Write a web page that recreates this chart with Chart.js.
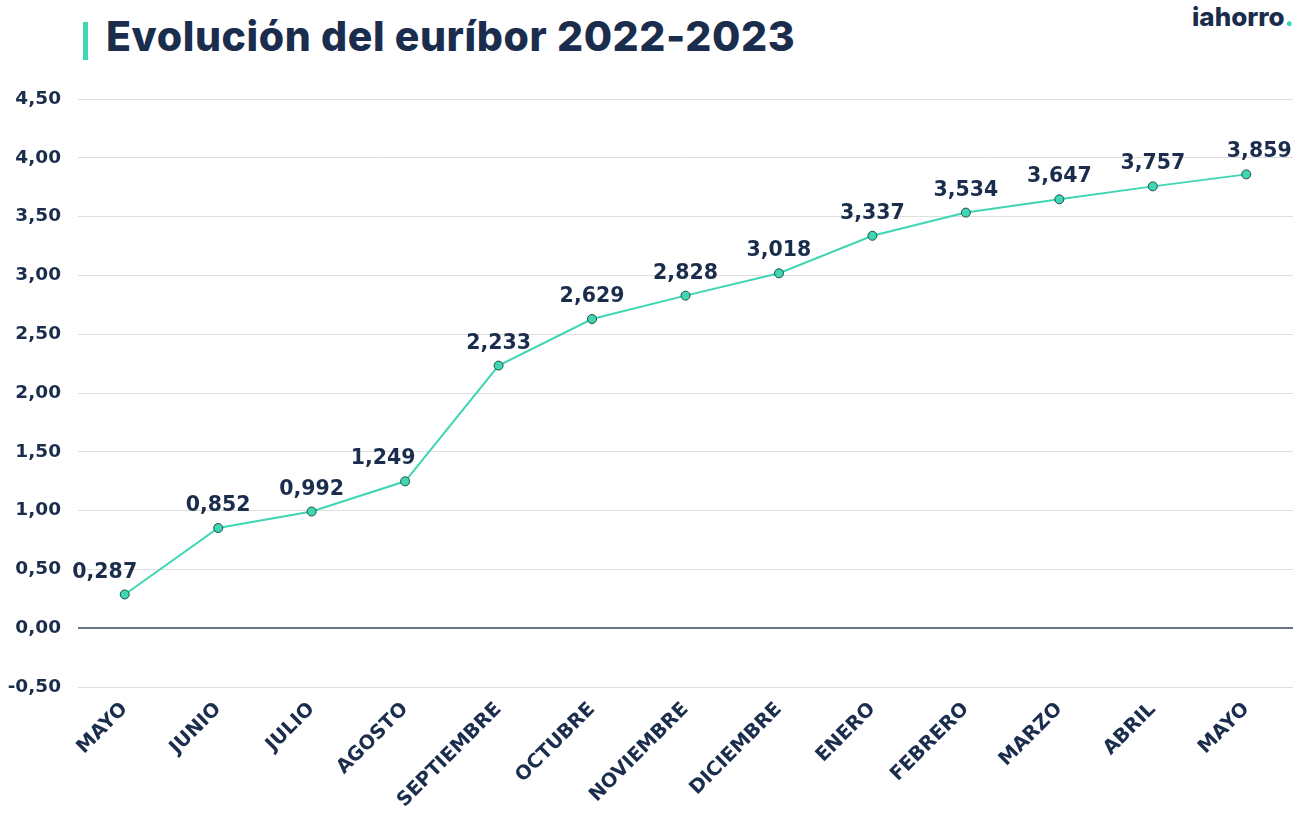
<!DOCTYPE html>
<html>
<head>
<meta charset="utf-8">
<script src="https://cdn.jsdelivr.net/npm/chart.js"></script>
<style>
  html, body { margin: 0; padding: 0; background: #fff; }
  #wrap { position: relative; width: 1299px; height: 833px; overflow: hidden; }
  #bar { position: absolute; left: 83px; top: 22px; width: 5px; height: 38px; background: #3fd6b3; }
  #title { position: absolute; left: 106px; top: 11px; font: 800 41px Inter, sans-serif; color: #1b2d4d; letter-spacing: 0.6px; white-space: nowrap; }
  #logo { position: absolute; left: 1192px; top: 1px; font: 800 26px Inter, sans-serif; color: #1b2d4d; letter-spacing: 0px; }
  #logo span { color: #3fd6b3; }
  canvas { position: absolute; left: 0; top: 0; }
</style>
</head>
<body>
<div id="wrap">
  <div id="bar"></div>
  <div id="title">Evolución del euríbor 2022-2023</div>
  <div id="logo">iahorro<span>.</span></div>
  <canvas id="myChart" width="1299" height="833"></canvas>
</div>
<script>
const meses = ['MAYO', 'JUNIO', 'JULIO', 'AGOSTO', 'SEPTIEMBRE', 'OCTUBRE', 'NOVIEMBRE',
  'DICIEMBRE', 'ENERO', 'FEBRERO', 'MARZO', 'ABRIL', 'MAYO'];
const euribor = [0.287, 0.852, 0.992, 1.249, 2.233, 2.629, 2.828, 3.018, 3.337, 3.534, 3.647, 3.757, 3.859];

const navy = '#1b2d4d';
const teal = '#3fd6b3';
const fam = '"DejaVu Sans", sans-serif';

const fmt = (v, d) => v.toFixed(d).replace('.', ',');

// etiquetas encima de cada punto
const valueLabels = {
  id: 'valueLabels',
  afterDatasetsDraw(chart) {
    const ctx = chart.ctx;
    const meta = chart.getDatasetMeta(0);
    const shift = { 0: -20, 3: -22, 12: 13 };
    ctx.save();
    ctx.font = '700 20.5px ' + fam;
    ctx.fillStyle = navy;
    ctx.textAlign = 'center';
    ctx.textBaseline = 'bottom';
    meta.data.forEach((pt, i) => {
      ctx.fillText(fmt(euribor[i], 3), pt.x + (shift[i] || 0), pt.y - 12);
    });
    ctx.restore();
  }
};

const data = {
  labels: meses,
  datasets: [{
    data: euribor,
    borderColor: teal,
    borderWidth: 2,
    pointBackgroundColor: teal,
    pointBorderColor: '#1f4d47',
    pointBorderWidth: 1,
    pointRadius: 4.5,
    tension: 0
  }]
};

const config = {
  type: 'line',
  data: data,
  plugins: [valueLabels],
  options: {
    responsive: false,
    animation: false,
    layout: { padding: { top: 99, right: 6, left: 0, bottom: 0 } },
    plugins: { legend: { display: false }, tooltip: { enabled: false } },
    scales: {
      x: {
        offset: true,
        border: { display: false },
        grid: { display: false, drawTicks: false },
        afterFit: (s) => { s.height = 146; },
        ticks: {
          color: navy,
          font: { family: fam, weight: '700', size: 19.5 },
          minRotation: 45,
          maxRotation: 45,
          padding: 11,
          autoSkip: false
        }
      },
      y: {
        min: -0.5,
        max: 4.5,
        border: { display: false },
        afterFit: (s) => { s.width = 78; },
        grid: {
          drawTicks: false,
          color: (c) => c.tick && c.tick.value === 0 ? '#6c757f' : '#dedede',
          lineWidth: (c) => c.tick && c.tick.value === 0 ? 2 : 1
        },
        ticks: {
          stepSize: 0.5,
          color: navy,
          padding: 17,
          font: { family: fam, weight: '700', size: 18.5 },
          callback: (v) => fmt(v, 2)
        }
      }
    }
  }
};

new Chart(document.getElementById('myChart'), config);
</script>
</body>
</html>
